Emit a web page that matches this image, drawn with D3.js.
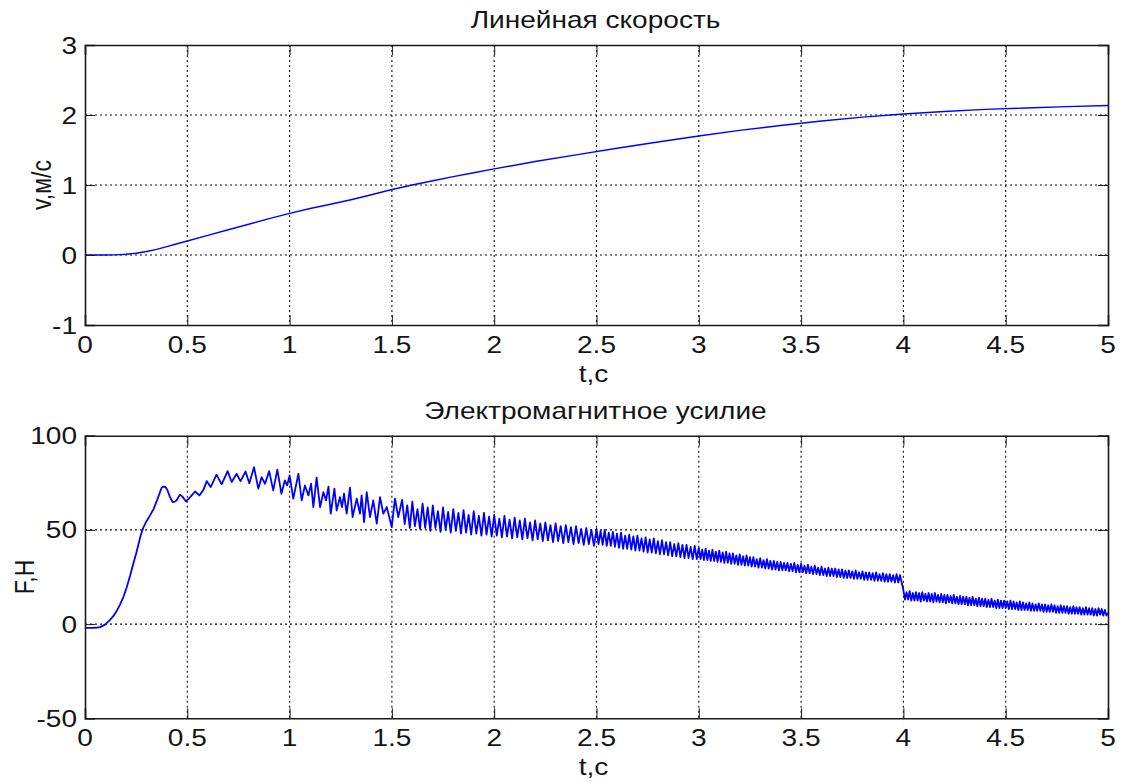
<!DOCTYPE html>
<html><head><meta charset="utf-8">
<script src="https://cdn.jsdelivr.net/npm/d3@7"></script>
<style>body{margin:0;background:#fff}svg{display:block}</style>
</head><body><svg id="c" width="1126" height="782"></svg>
<script>
// ---------- data ----------
const xTicks = [0, 0.5, 1, 1.5, 2, 2.5, 3, 3.5, 4, 4.5, 5];
const xTickLabels = ["0", "0.5", "1", "1.5", "2", "2.5", "3", "3.5", "4", "4.5", "5"];
const vTicks = [-1, 0, 1, 2, 3];
const fTicks = [-50, 0, 50, 100];

// linear velocity, m/s
const velT = [0,0.1,0.15,0.2,0.25,0.3,0.35,0.4,0.45,0.5,0.6,0.7,0.8,0.9,1.0,1.1,1.2,1.3,1.4,1.5,1.6,1.7,1.8,1.9,2.0,2.2,2.4,2.6,2.8,3.0,3.2,3.4,3.6,3.8,4.0,4.2,4.4,4.6,4.8,5.0];
const velV = [0,0,0.002,0.01,0.025,0.05,0.08,0.12,0.16,0.20,0.28,0.36,0.44,0.52,0.595,0.665,0.725,0.79,0.86,0.935,1.0,1.06,1.12,1.175,1.23,1.335,1.43,1.525,1.615,1.70,1.78,1.85,1.915,1.97,2.015,2.05,2.08,2.10,2.12,2.135];

// electromagnetic force, N — start-up part read point by point
const forceT = [0,0.04,0.06,0.073,0.098,0.12,0.138,0.155,0.171,0.188,0.204,0.22,0.236,0.25,0.26,0.272,0.285,0.3,0.318,0.335,0.35,0.365,0.375,0.383,0.393,0.402,0.415,0.428,0.44,0.448,0.464,0.475,0.494,0.515,0.538,0.559,0.58,0.595,0.614,0.643,0.668,0.697,0.717,0.741,0.76,0.785,0.803,0.826,0.847,0.863,0.88,0.9,0.92,0.94,0.96,0.977,0.988,1.0,1.018,1.043,1.059,1.075,1.092,1.105,1.116,1.132,1.149,1.165,1.178,1.19,1.201,1.219,1.23,1.246,1.256,1.266,1.279,1.295,1.308,1.328,1.344,1.352,1.364,1.377,1.393,1.409,1.426,1.442,1.458,1.475,1.499,1.515,1.531];
const forceV = [-2,-2,-1.8,-1.6,-0.3,2,4.2,7,10.3,14.5,19.6,25.5,32,37.5,41.8,47,51.2,54.5,57.7,61,65.1,69.5,72.5,73,72.8,71.3,67.5,64.8,65,65.7,68.7,67.8,65.1,67.5,70.4,68.3,71.5,75.9,72.7,79.3,74.2,81.2,75.4,79.8,75.9,81,74.8,83.3,71.9,78,74.5,81.2,71,82,69.2,76.3,73.6,78.9,66.6,79.8,65.7,73.6,68.3,74.5,62.1,77.7,62.1,70,65.7,73,58.6,71.9,60.3,67.4,62.1,69.2,58.6,72.4,56.8,66.6,58.6,68.3,54.1,70,56.8,65.7,53.3,67.4,58.6,62.1,51.5,66.6,56.8];

// oscillating part: successive peak / trough values, evenly spread over each time span
const oscStart = [1.55, 2.5, 3.0, 4.0];
const oscEnd = [2.5, 3.0, 4.0, 5.0];
const osc1 = [66,53,63,51,65,52,61,50.5,64,51,62,49.5,63,51,60,49,62,50,59.5,48.5,61,49.5,59,48,60.5,48.5,58,47.5,60,48,57.5,47,59,47.5,57,46.5,58,47,56,46,57.5,46.5,55.5,45.5,56.5,46,55,45,56,45.5,54,44.5,55,45,53.5,44,54,44.5,52.5,43.5,53.5,44,52,43,52.5,43.5,51.5,42.5,52,43,50.5,42,51,42.5,50,41.5];
const osc2 = [50.5,42.5,49.5,42,50,41.5,48.5,41.5,49,41,48,40.5,48.5,40,47,40,47.5,39.5,46.5,39,47,39,45.5,38.5,46,38,45,38,45.5,37.5,44,37,44.5,37,43.5,36.5,43.5,36,42.5,36,43,35.5,42,35,42,35,41,34.5,41.5,34.5];
const osc3 = [40.5,34.5,39.5,34,40,34,39,33.5,39.5,33.5,38.5,33,39,33,38,32.5,38.5,32.5,37.5,32,37.5,32,36.5,31.5,37,31.5,36,31,36.5,31,35.5,30.5,35.5,30.5,34.5,30,35,30,34,29.5,34.5,29.5,33.5,29,33.5,29,33,28.5,33,28.5,32.5,28.5,32.5,28,32,28,32.5,27.5,31.5,27.5,32,27.5,31,27,31.5,27,30.5,26.5,31,26.5,30,26,30.5,26,29.5,25.5,30,25.5,29.5,25.5,29.5,25,29,25,29,24.5,28.5,24.5,28.5,24.5,28,24,28.5,24,27.5,24,28,23.5,27.5,23.5,27.5,23.5,27,23,27.5,23,26.5,23,27,22.5,26.5,22.5,26.5,22.5,26,22,26.5,22,26,22];
const osc4 = [18,13,17,13,17.5,12.5,16.5,12.5,17,12.5,16.5,12,17,12.5,16,12,16.5,12,16,11.5,16.5,12,15.5,11.5,16,11.5,15.5,11,15.5,11.5,15,11,15.5,11,14.5,10.5,15,10.5,14.5,10.5,14.5,10,14,10,14.5,10,13.5,9.5,14,9.5,13.5,9.5,13.5,9,13,9,13.5,9,12.5,8.5,13,8.5,12.5,8.5,12.5,8.5,12,8,12.5,8,12,8,11.5,7.5,12,7.5,11.5,7.5,11,7.5,11.5,7,11,7,10.5,7,11,7,10.5,6.5,10.5,6.5,10,6.5,10.5,6.5,10,6,9.5,6,10,6,9.5,6,9.5,5.5,9,5.5,9.5,5.5,9,5.5,9,5,8.5,5,9,5,8.5,5,8.5,4.5,8,4.5,8.5,5,8,4.5,7.5,4.5];
const oscVals = [osc1, osc2, osc3, osc4];

// ---------- drawing ----------
const svg = d3.select("#c");
svg.append("rect").attr("width", 1126).attr("height", 782).attr("fill", "#fff");
const FONT = "Liberation Sans, Arial, Helvetica, sans-serif";
const FS = 23, SX = 1.22;
const L = 85, R = 1108;
const x = d3.scaleLinear().domain([0, 5]).range([L, R]);

function txt(g, px, py, s, anchor, rot) {
  g.append("text")
    .attr("transform", `translate(${px},${py}) scale(${SX},1)` + (rot ? " rotate(-90)" : ""))
    .attr("text-anchor", anchor)
    .attr("font-family", FONT).attr("font-size", FS).attr("fill", "#151515")
    .text(s);
}

function panel(opt) {
  const g = svg.append("g");
  const y = d3.scaleLinear().domain(opt.domain).range([opt.bottom, opt.top]);
  const id = "clip" + opt.id;
  svg.append("clipPath").attr("id", id).append("rect")
    .attr("x", L).attr("y", opt.top).attr("width", R - L).attr("height", opt.bottom - opt.top);
  // grid
  const grid = g.append("g").attr("stroke", "#111").attr("stroke-width", 1.1).attr("stroke-dasharray", "2,3");
  xTicks.slice(1, -1).forEach(t => grid.append("line").attr("x1", x(t)).attr("x2", x(t)).attr("y1", opt.top).attr("y2", opt.bottom));
  opt.ticks.slice(1, -1).forEach(t => grid.append("line").attr("x1", L).attr("x2", R).attr("y1", y(t)).attr("y2", y(t)));
  // series
  g.append("g").attr("clip-path", `url(#${id})`).append("path")
    .datum(opt.data)
    .attr("d", d3.line().x(d => x(d[0])).y(d => y(d[1])))
    .attr("fill", "none").attr("stroke", "#0000ff").attr("stroke-width", opt.sw).attr("stroke-linejoin", "round");
  // axes box with inward ticks (d3 axes)
  const TL = 10;
  const axB = d3.axisBottom(x).tickValues(xTicks).tickSize(-TL).tickFormat("");
  const axT = d3.axisTop(x).tickValues(xTicks).tickSize(-TL).tickFormat("");
  const axLft = d3.axisLeft(y).tickValues(opt.ticks).tickSize(-TL).tickFormat("");
  const axRt = d3.axisRight(y).tickValues(opt.ticks).tickSize(-TL).tickFormat("");
  [[axB, `translate(0,${opt.bottom})`], [axT, `translate(0,${opt.top})`], [axLft, `translate(${L},0)`], [axRt, `translate(${R},0)`]]
    .forEach(([a, tr]) => {
      const ag = g.append("g").attr("transform", tr).call(a);
      ag.selectAll("path").attr("stroke", "#1a1a1a").attr("stroke-width", 1.6);
      ag.selectAll("line").attr("stroke", "#1a1a1a").attr("stroke-width", 1);
    });
  // tick labels
  xTicks.forEach((t, i) => txt(g, x(t), opt.bottom + 28, xTickLabels[i], "middle"));
  opt.ticks.forEach(t => txt(g, 77, y(t) + 8.5, String(t), "end"));
  // labels
  txt(g, (L + R) / 2 - 1, opt.top - 17, opt.title, "middle");
  txt(g, (L + R) / 2 - 3, opt.bottom + 56.5, "t,с", "middle");
  txt(g, opt.ylx, (opt.top + opt.bottom) / 2, opt.ylabel, "middle", true);
}

const velData = velT.map((t, i) => [t, velV[i]]);
const forceData = forceT.map((t, i) => [t, forceV[i]]);
oscVals.forEach((vals, s) => {
  const ts = d3.scaleLinear().domain([0, vals.length]).range([oscStart[s], oscEnd[s]]);
  vals.forEach((v, k) => forceData.push([ts(k), v]));
});
forceData.push([5.0, 6]);

panel({id: 1, top: 45, bottom: 325, domain: [-1, 3], ticks: vTicks, data: velData, sw: 1.4,
       title: "Линейная скорость", ylabel: "v,м/с", ylx: 51});
panel({id: 2, top: 435.7, bottom: 718.3, domain: [-50, 100], ticks: fTicks, data: forceData, sw: 1.8,
       title: "Электромагнитное усилие", ylabel: "F,Н", ylx: 34});
</script></body></html>
